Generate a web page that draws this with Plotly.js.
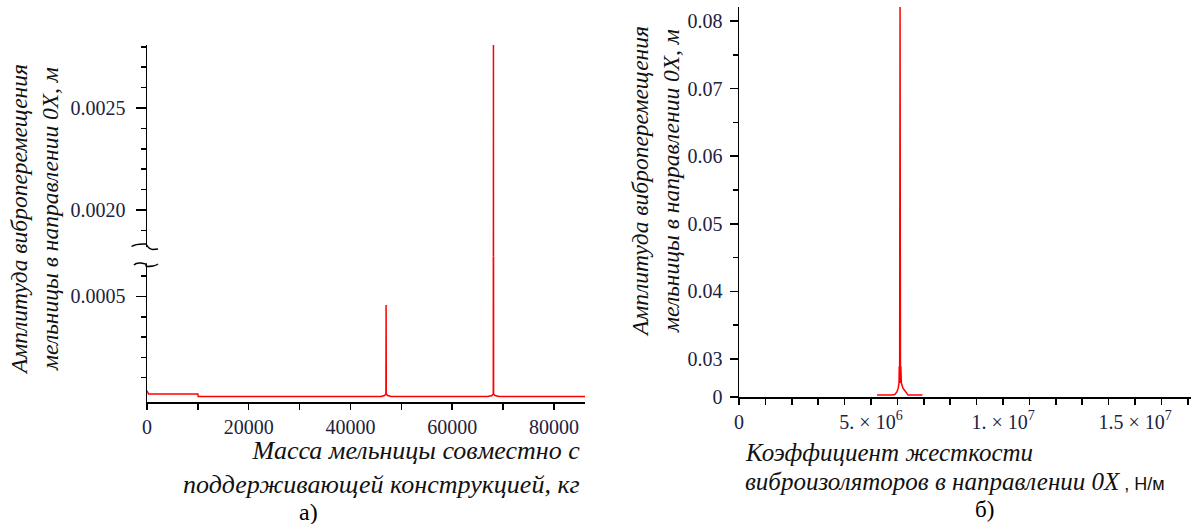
<!DOCTYPE html>
<html><head><meta charset="utf-8">
<script src="https://cdn.plot.ly/plotly-3.0.1.min.js"></script>
<style>html,body{margin:0;padding:0;background:#fff;overflow:hidden}#chart{width:1191px;height:524px}</style>
</head><body><div id="chart"></div>
<script>
// ---- Panel а): amplitude vs mass ----
const massKg  = [0, 300, 10000, 10060, 46000, 46700, 46960, 47000, 47040, 47300, 48000, 67000, 67800, 68070, 68100, 68130, 68400, 69200, 86100];
const ampMass = [0.000035, 0.00002, 0.00002, 0.000007, 0.000007, 0.000012, 0.00002, 0.000458, 0.00002, 0.000012, 0.000007, 0.000007, 0.000012, 0.00002, 0.00281, 0.00002, 0.000012, 0.000007, 0.000007];
const massTicks = [0, 20000, 40000, 60000, 80000];
const massMinor = [10000, 20000, 30000, 40000, 50000, 60000, 70000, 80000];
const ampLowTicks = [0.0005];
const ampLowMinor = [0.0001, 0.0002, 0.0003, 0.0004, 0.0005, 0.0006];
const ampHighTicks = [0.0020, 0.0025];
const ampHighMinor = [0.0019, 0.0020, 0.0021, 0.0022, 0.0023, 0.0024, 0.0025, 0.0026, 0.0027, 0.0028];

// ---- Panel б): amplitude vs stiffness ----
const stiffness = [5.23e6, 5.8e6, 5.9e6, 5.98e6, 6.03e6, 6.06e6, 6.07e6, 6.08e6, 6.10e6, 6.12e6, 6.13e6, 6.15e6, 6.21e6, 6.32e6, 6.40e6, 6.95e6];
const ampStiff  = [0.0015, 0.0015, 0.002, 0.004, 0.007, 0.011, 0.024, 0.011, 0.0821, 0.011, 0.024, 0.011, 0.007, 0.004, 0.0015, 0.0015];
const stiffTicks = [0, 5e6, 1e7, 1.5e7];
const stiffTickText = ['0', '5. × 10<sup>6</sup>', '1. × 10<sup>7</sup>', '1.5 × 10<sup>7</sup>'];
const stiffMinor = [1e6,2e6,3e6,4e6,5e6,6e6,7e6,8e6,9e6,1e7,1.1e7,1.2e7,1.3e7,1.4e7,1.5e7,1.6e7,1.7e7];
const ampStiffLowTicks = [0];
const ampStiffHighTicks = [0.03, 0.04, 0.05, 0.06, 0.07, 0.08];
const ampStiffHighMinor = [0.035, 0.045, 0.055, 0.065, 0.075];

const W = 1191, H = 524;
const px = v => v / W;
const py = v => 1 - v / H;

const tickFont = {family: 'Liberation Serif', size: 20, color: '#1c2240'};
const vTitleFont = {family: 'Liberation Serif', size: 23.5, color: '#111'};
const hTitleFont = {family: 'Liberation Serif', size: 26, color: '#111'};
const rTitleFont = {family: 'Liberation Serif', size: 25, color: '#111'};
const lineStyle = {color: '#ff0000', width: 1.5, simplify: false};

function axisBase(extra) {
  return Object.assign({
    showline: true, linecolor: '#000', linewidth: 1.5,
    ticks: 'outside', tickcolor: '#000', tickwidth: 1.5,
    showgrid: false, zeroline: false, tickfont: tickFont,
    fixedrange: true
  }, extra);
}

const traces = [
  {x: massKg, y: ampMass, xaxis: 'x', yaxis: 'y', mode: 'lines', line: lineStyle, hoverinfo: 'skip'},
  {x: massKg, y: ampMass, xaxis: 'x', yaxis: 'y2', mode: 'lines', line: lineStyle, hoverinfo: 'skip'},
  {x: stiffness, y: ampStiff, xaxis: 'x2', yaxis: 'y3', mode: 'lines', line: lineStyle, hoverinfo: 'skip'},
  {x: stiffness, y: ampStiff, xaxis: 'x2', yaxis: 'y4', mode: 'lines', line: lineStyle, hoverinfo: 'skip'}
];

const layout = {
  width: W, height: H,
  margin: {l: 0, r: 0, t: 0, b: 0},
  paper_bgcolor: '#fff', plot_bgcolor: 'rgba(0,0,0,0)',
  showlegend: false, hovermode: false,
  xaxis: axisBase({domain: [px(147), px(585)], range: [0, 86100], anchor: 'y',
    tickmode: 'array', tickvals: massTicks, tickformat: 'd', ticklen: 6,
    minor: {tickmode: 'array', tickvals: massMinor, ticks: 'outside', ticklen: 6, tickcolor: '#000', tickwidth: 1.5}}),
  yaxis: axisBase({domain: [py(402), py(256.5)], range: [-0.00002, 0.000697], anchor: 'x',
    tickmode: 'array', tickvals: ampLowTicks, tickformat: '.4f', ticklen: 10, ticklabelstandoff: 6,
    minor: {tickmode: 'array', tickvals: ampLowMinor, ticks: 'outside', ticklen: 5, tickcolor: '#000', tickwidth: 1.5}}),
  yaxis2: axisBase({domain: [py(256.5), py(45)], range: [0.001772, 0.002809], anchor: 'x',
    tickmode: 'array', tickvals: ampHighTicks, tickformat: '.4f', ticklen: 10, ticklabelstandoff: 6,
    minor: {tickmode: 'array', tickvals: ampHighMinor, ticks: 'outside', ticklen: 5, tickcolor: '#000', tickwidth: 1.5}}),
  xaxis2: axisBase({domain: [px(739), 1], range: [0, 1.712e7], anchor: 'y3',
    tickmode: 'array', tickvals: stiffTicks, ticktext: stiffTickText, ticklen: 6,
    minor: {tickmode: 'array', tickvals: stiffMinor, ticks: 'outside', ticklen: 6, tickcolor: '#000', tickwidth: 1.5}}),
  yaxis3: axisBase({domain: [py(397), py(359)], range: [0, 0.03], anchor: 'x2',
    tickmode: 'array', tickvals: ampStiffLowTicks, ticktext: ['0'], ticklen: 8, ticklabelstandoff: 3}),
  yaxis4: axisBase({domain: [py(359), py(7)], range: [0.03, 0.08207], anchor: 'x2',
    tickmode: 'array', tickvals: ampStiffHighTicks, tickformat: '.2f', ticklen: 8, ticklabelstandoff: 3,
    minor: {tickmode: 'array', tickvals: ampStiffHighMinor, ticks: 'outside', ticklen: 5, tickcolor: '#000', tickwidth: 1.5}}),
  shapes: [
    {type: 'rect', xref: 'paper', yref: 'paper', x0: px(141), x1: px(151), y0: py(263.5), y1: py(247), fillcolor: '#fff', line: {width: 0}, layer: 'above'},
    {type: 'path', xref: 'paper', yref: 'paper', layer: 'above', line: {color: '#000', width: 1.5},
      path: `M ${px(131.5)},${py(246.5)} Q ${px(136)},${py(243.5)} ${px(146)},${py(244)} Q ${px(149)},${py(249.5)} ${px(153)},${py(249.5)} L ${px(158)},${py(249)}`},
    {type: 'path', xref: 'paper', yref: 'paper', layer: 'above', line: {color: '#000', width: 1.5},
      path: `M ${px(134)},${py(265)} Q ${px(136)},${py(262.5)} ${px(141)},${py(263)} L ${px(146)},${py(264)} L ${px(146)},${py(266.5)} M ${px(146)},${py(266.5)} Q ${px(150)},${py(266.5)} ${px(153)},${py(266)} Q ${px(156)},${py(265.5)} ${px(158)},${py(264)}`}
  ],
  annotations: [
    {text: '<i>Амплитуда виброперемещения<br>мельницы в направлении 0X, м</i>', x: px(35), y: py(220), xref: 'paper', yref: 'paper',
      xanchor: 'center', yanchor: 'middle', textangle: -90, showarrow: false, font: vTitleFont},
    {text: '<i>Амплитуда виброперемещения<br>мельницы в направлении 0X, м</i>', x: px(656), y: py(182), xref: 'paper', yref: 'paper',
      xanchor: 'center', yanchor: 'middle', textangle: -90, showarrow: false, font: vTitleFont},
    {text: '<i>Масса мельницы совместно с<br>поддерживающей конструкцией, кг</i>', x: px(582), y: py(467), xref: 'paper', yref: 'paper',
      xanchor: 'right', yanchor: 'middle', align: 'right', showarrow: false, font: hTitleFont},
    {text: '<i>Коэффициент жесткости</i>', x: px(743), y: py(452), xref: 'paper', yref: 'paper',
      xanchor: 'left', yanchor: 'middle', align: 'left', showarrow: false, font: rTitleFont},
    {text: '<i>виброизоляторов в направлении 0X</i><span style="font-family:Liberation Sans;font-size:18px"> , Н/м</span>', x: px(743), y: py(481), xref: 'paper', yref: 'paper',
      xanchor: 'left', yanchor: 'middle', align: 'left', showarrow: false, font: rTitleFont},
    {text: 'а)', x: px(308), y: py(512), xref: 'paper', yref: 'paper', xanchor: 'center', yanchor: 'middle', showarrow: false,
      font: {family: 'Liberation Serif', size: 24, color: '#000'}},
    {text: 'б)', x: px(985), y: 0, xref: 'paper', yref: 'paper', xanchor: 'center', yanchor: 'bottom', showarrow: false,
      font: {family: 'Liberation Serif', size: 23, color: '#000'}}
  ]
};

Plotly.newPlot('chart', traces, layout, {staticPlot: true, displayModeBar: false});
</script>
</body></html>
